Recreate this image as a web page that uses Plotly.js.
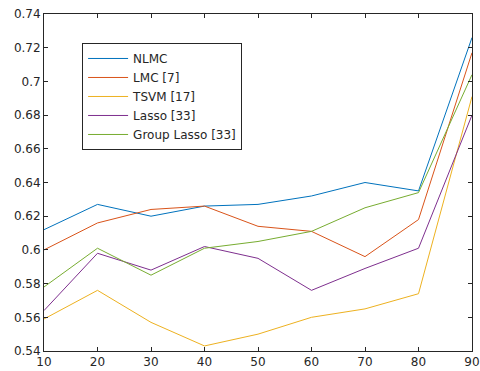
<!DOCTYPE html>
<html>
<head>
<meta charset="utf-8">
<script src="https://cdn.plot.ly/plotly-3.0.1.min.js"></script>
<style>html,body{margin:0;padding:0;background:#fff;}#chart{width:480px;height:371px;}</style>
</head>
<body>
<div id="chart"></div>
<script>
const xValues = [10, 20, 30, 40, 50, 60, 70, 80, 90];
const nlmc       = [0.612, 0.627, 0.620, 0.626, 0.627, 0.632, 0.640, 0.635, 0.726];
const lmc        = [0.600, 0.616, 0.624, 0.626, 0.614, 0.611, 0.596, 0.618, 0.717];
const tsvm       = [0.559, 0.576, 0.557, 0.543, 0.550, 0.560, 0.565, 0.574, 0.691];
const lasso      = [0.564, 0.598, 0.588, 0.602, 0.595, 0.576, 0.589, 0.601, 0.680];
const groupLasso = [0.578, 0.601, 0.585, 0.601, 0.605, 0.611, 0.625, 0.634, 0.704];
const seriesNames = ['NLMC', 'LMC [7]', 'TSVM [17]', 'Lasso [33]', 'Group Lasso [33]'];
const seriesColors = ['#0072BD', '#D95319', '#EDB120', '#7E2F8E', '#77AC30'];
const allSeries = [nlmc, lmc, tsvm, lasso, groupLasso];

const traces = allSeries.map((ys, i) => ({
  x: xValues, y: ys, type: 'scatter', mode: 'lines', name: seriesNames[i],
  line: {color: seriesColors[i], width: 1}
}));

const fontFam = 'DejaVu Sans, sans-serif';
const axisCol = '#262626';
const fs = 12;
const layout = {
  width: 480, height: 371,
  margin: {l: 44, r: 8, t: 14, b: 20},
  paper_bgcolor: '#fff', plot_bgcolor: '#fff',
  font: {family: fontFam, size: fs, color: axisCol},
  showlegend: true,
  legend: {
    x: 0.089, y: 0.914, xanchor: 'left', yanchor: 'top',
    bgcolor: '#fff', bordercolor: axisCol, borderwidth: 1,
    font: {family: fontFam, size: fs, color: axisCol},
    itemwidth: 40, tracegroupgap: 0
  },
  xaxis: {
    range: [10, 90], dtick: 10, tick0: 10, ticks: 'inside', ticklen: 4,
    tickcolor: axisCol, linecolor: axisCol, linewidth: 1, mirror: 'ticks',
    showgrid: false, zeroline: false, showline: true,
    tickfont: {family: fontFam, size: fs, color: axisCol}
  },
  yaxis: {
    range: [0.54, 0.74], dtick: 0.02, tick0: 0.54, ticks: 'inside', ticklen: 4,
    tickcolor: axisCol, linecolor: axisCol, linewidth: 1, mirror: 'ticks',
    showgrid: false, zeroline: false, showline: true,
    tickfont: {family: fontFam, size: fs, color: axisCol}
  }
};
Plotly.newPlot('chart', traces, layout, {displayModeBar: false, staticPlot: true});
</script>
</body>
</html>
